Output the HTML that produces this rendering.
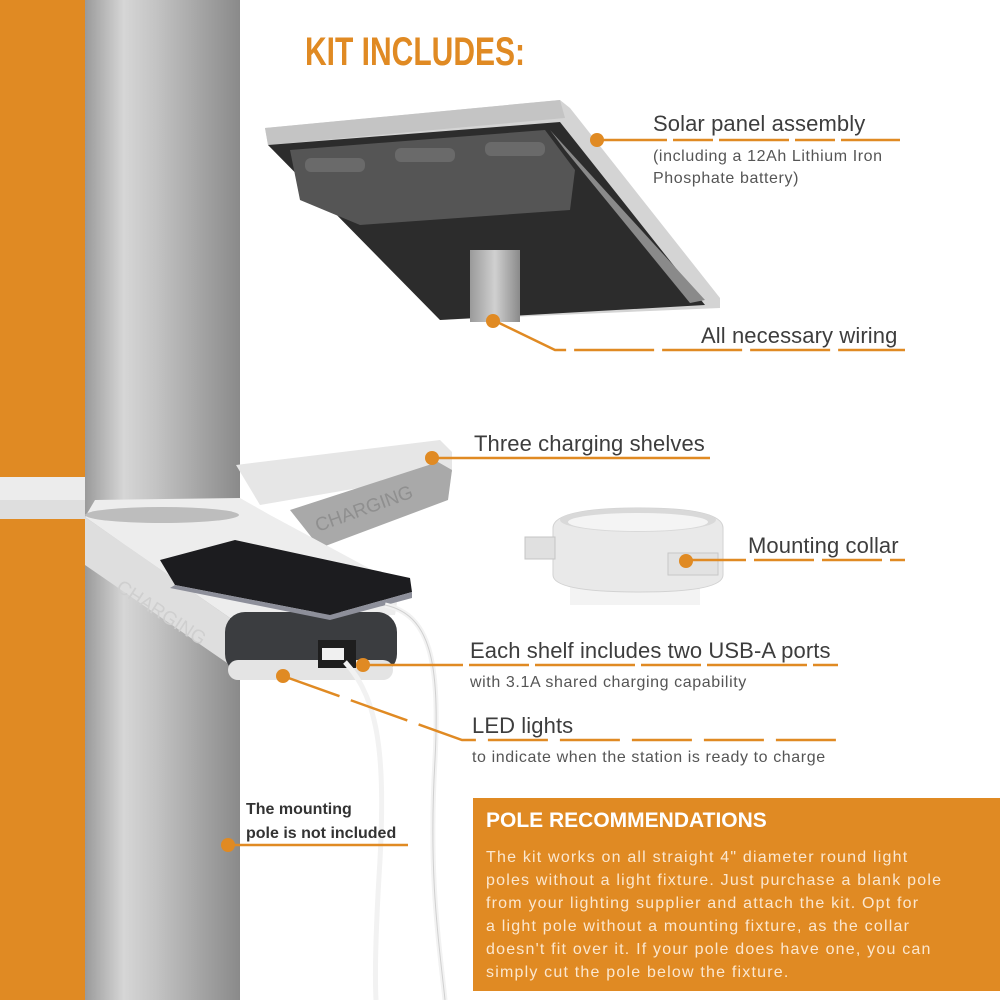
<!DOCTYPE html>
<html><head><meta charset="utf-8"><style>
body{margin:0;width:1000px;height:1000px;background:#fff;position:relative;overflow:hidden;font-family:"Liberation Sans",sans-serif}
.t{position:absolute;white-space:nowrap;color:#3d3d3d}
.h{font-size:22px;letter-spacing:0.1px}
.s{font-size:16px;color:#555;letter-spacing:0.6px}
</style></head><body>
<svg width="1000" height="1000" style="position:absolute;left:0;top:0">
<defs>
<linearGradient id="pole" x1="0" x2="1"><stop offset="0" stop-color="#9a9a9a"/><stop offset="0.25" stop-color="#d6d6d6"/><stop offset="0.45" stop-color="#c4c4c4"/><stop offset="0.75" stop-color="#a4a4a4"/><stop offset="1" stop-color="#8a8a8a"/></linearGradient>
<linearGradient id="stem" x1="0" x2="1"><stop offset="0" stop-color="#9a9a9a"/><stop offset="0.5" stop-color="#d0d0d0"/><stop offset="1" stop-color="#8a8a8a"/></linearGradient>
</defs>
<rect x="0" y="0" width="86" height="1000" fill="#e08a23"/>
<rect x="0" y="477" width="86" height="42" fill="#ececec"/>
<rect x="0" y="500" width="86" height="19" fill="#dedede"/>
<rect x="85" y="0" width="155" height="1000" fill="url(#pole)"/>
<!-- far shelf arm -->
<polygon points="236,465 440,440 452,452 452,472 260,505" fill="#e6e6e6"/>
<polygon points="290,510 438,462 452,470 448,500 320,548" fill="#a9a9a9"/>
<!-- near shelf -->
<polygon points="85,517 95,500 240,498 270,515 400,585 395,615 230,618" fill="#ededed"/>
<polygon points="85,517 230,618 230,665 85,565" fill="#dedede"/>
<ellipse cx="162" cy="515" rx="77" ry="8" fill="#bdbdbd"/>
<rect x="225" y="612" width="172" height="62" rx="20" fill="#3b3d40"/>
<rect x="228" y="660" width="165" height="20" rx="10" fill="#e4e4e4"/>
<rect x="318" y="640" width="38" height="28" fill="#1e1e1e"/>
<rect x="322" y="648" width="22" height="12" fill="#f0f0f0"/>
<!-- phone -->
<polygon points="160,560 235,540 410,578 412,592 330,615 175,585" fill="#1c1c1f"/>
<polygon points="175,585 330,615 412,592 412,598 330,620 170,588" fill="#8d8f9a"/>
<!-- cables -->
<path d="M385,605 C430,615 440,660 435,760 C428,880 440,950 445,1000" stroke="#f2f2f2" stroke-width="5" fill="none"/>
<path d="M345,662 C380,700 385,760 380,860 C375,940 375,980 376,1000" stroke="#f2f2f2" stroke-width="5" fill="none"/>
<path d="M385,605 C430,615 440,660 435,760 C428,880 440,950 445,1000" stroke="#d0d0d0" stroke-width="1" fill="none"/>
<text x="115" y="590" transform="rotate(33 115 590)" font-size="19" fill="#cfcfcf" font-family="Liberation Sans">CHARGING</text>
<text x="318" y="532" transform="rotate(-20 318 532)" font-size="19" fill="#8f8f8f" font-family="Liberation Sans">CHARGING</text>
<!-- solar panel -->
<polygon points="265,128 560,100 570,108 720,298 720,308 440,320 268,145" fill="#d4d4d4"/>
<polygon points="265,128 560,100 565,118 268,145" fill="#c4c4c4"/>
<polygon points="268,145 560,122 705,305 440,320" fill="#2c2c2c"/>
<polygon points="290,150 545,130 575,170 570,210 360,225 300,200" fill="#555"/>
<polygon points="550,130 705,300 690,303 565,150" fill="#8a8a8a"/>
<rect x="305" y="158" width="60" height="14" rx="6" fill="#6a6a6a"/>
<rect x="395" y="148" width="60" height="14" rx="6" fill="#6a6a6a"/>
<rect x="485" y="142" width="60" height="14" rx="6" fill="#6a6a6a"/>
<rect x="470" y="250" width="50" height="72" fill="url(#stem)"/>
<!-- collar -->
<rect x="570" y="560" width="130" height="45" fill="#f3f3f3"/>
<path d="M553,528 Q553,508 640,508 Q723,508 723,528 L723,575 Q723,592 640,592 Q553,592 553,575 Z" fill="#e9e9e9" stroke="#d2d2d2"/>
<ellipse cx="638" cy="520" rx="78" ry="12" fill="#d9d9d9"/>
<ellipse cx="638" cy="522" rx="70" ry="9" fill="#f4f4f4"/>
<rect x="525" y="537" width="30" height="22" fill="#e0e0e0" stroke="#c5c5c5"/>
<rect x="668" y="553" width="50" height="22" fill="#e2e2e2" stroke="#c8c8c8"/>
<!-- leaders -->
<g stroke="#e08a23" stroke-width="2.5" fill="none">
<line x1="597" y1="140" x2="900" y2="140" stroke-dasharray="70 6 40 6"/>
<polyline points="493,320 555,350 905,350" stroke-dasharray="80 8"/>
<line x1="432" y1="458" x2="710" y2="458"/>
<line x1="686" y1="560" x2="905" y2="560" stroke-dasharray="60 8"/>
<line x1="363" y1="665" x2="838" y2="665" stroke-dasharray="100 6 60 6"/>
<polyline points="283,676 462,740 838,740" stroke-dasharray="60 12"/>
<line x1="228" y1="845" x2="408" y2="845"/>
</g>
<g fill="#e08a23">
<circle cx="597" cy="140" r="7"/><circle cx="493" cy="321" r="7"/><circle cx="432" cy="458" r="7"/>
<circle cx="686" cy="561" r="7"/><circle cx="363" cy="665" r="7"/><circle cx="283" cy="676" r="7"/><circle cx="228" cy="845" r="7"/>
</g>
<rect x="473" y="798" width="527" height="193" fill="#e08a23"/>
</svg>
<div class="t" style="left:305px;top:30px;font-size:40px;font-weight:bold;color:#e08a23;transform:scaleX(0.75);transform-origin:left">KIT INCLUDES:</div>
<div class="t h" style="left:653px;top:111px">Solar panel assembly</div>
<div class="t s" style="left:653px;top:146px;line-height:22px">(including a 12Ah Lithium Iron<br>Phosphate battery)</div>
<div class="t h" style="left:701px;top:323px">All necessary wiring</div>
<div class="t h" style="left:474px;top:431px">Three charging shelves</div>
<div class="t h" style="left:748px;top:533px">Mounting collar</div>
<div class="t h" style="left:470px;top:638px">Each shelf includes two USB-A ports</div>
<div class="t s" style="left:470px;top:674px">with 3.1A shared charging capability</div>
<div class="t h" style="left:472px;top:713px">LED lights</div>
<div class="t s" style="left:472px;top:749px">to indicate when the station is ready to charge</div>
<div class="t" style="left:246px;top:798px;font-size:16px;font-weight:bold;line-height:24px;color:#333">The mounting<br>pole is not included</div>
<div class="t" style="left:486px;top:809px;font-size:21px;font-weight:bold;color:#fff">POLE RECOMMENDATIONS</div>
<div class="t" style="left:486px;top:846px;font-size:16px;line-height:23px;letter-spacing:1.2px;color:#fbe7cf">The kit works on all straight 4" diameter round light<br>poles without a light fixture. Just purchase a blank pole<br>from your lighting supplier and attach the kit. Opt for<br>a light pole without a mounting fixture, as the collar<br>doesn't fit over it. If your pole does have one, you can<br>simply cut the pole below the fixture.</div>
</body></html>
